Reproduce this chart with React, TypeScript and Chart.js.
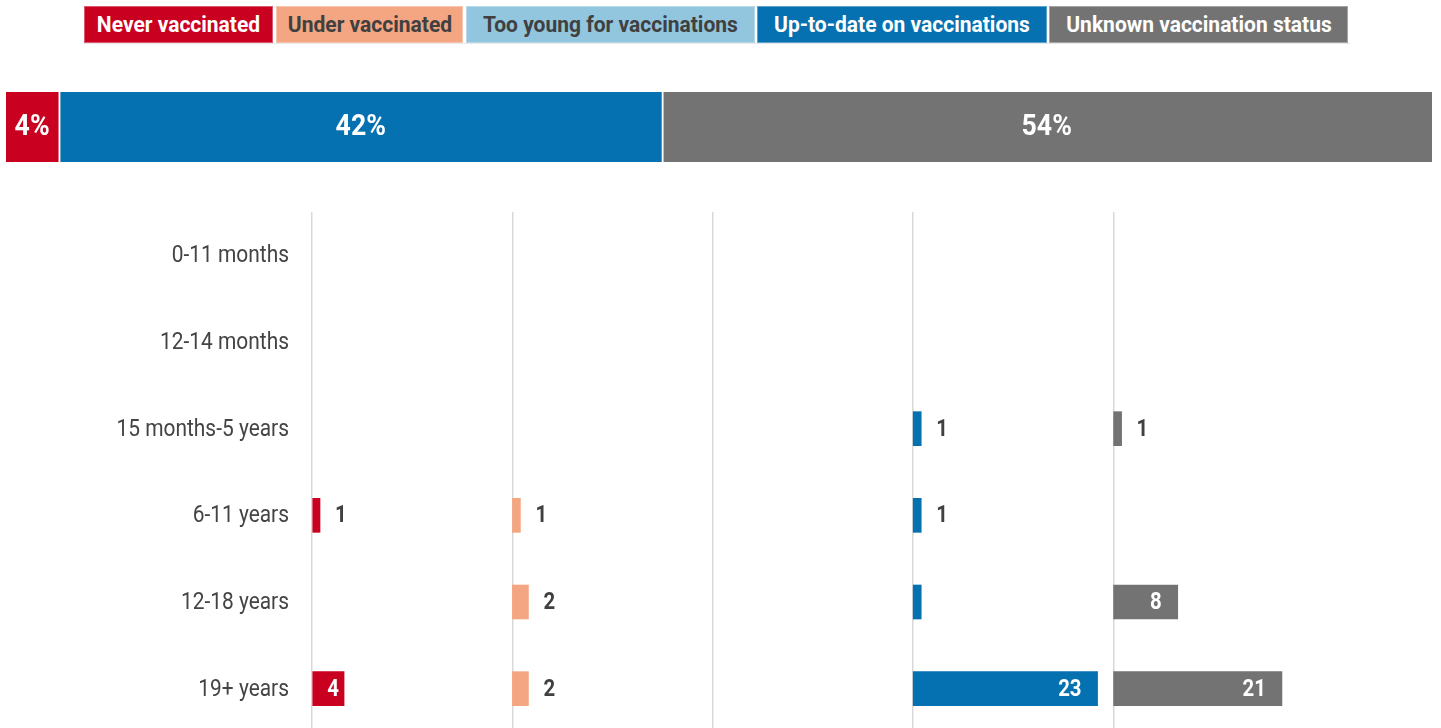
import React, { useEffect, useRef } from "react";
import { Chart, registerables } from "chart.js";

Chart.register(...registerables);

// ---------- data ----------
const ageGroups = [
  "0-11 months",
  "12-14 months",
  "15 months-5 years",
  "6-11 years",
  "12-18 years",
  "19+ years",
];
const seriesNames = [
  "Never vaccinated",
  "Under vaccinated",
  "Too young for vaccinations",
  "Up-to-date on vaccinations",
  "Unknown vaccination status",
];
const neverVaccinated = [0, 0, 0, 1, 0, 4];
const underVaccinated = [0, 0, 0, 1, 2, 2];
const tooYoung = [0, 0, 0, 0, 0, 0];
const upToDate = [0, 0, 1, 1, 1, 23];
const unknownStatus = [0, 0, 1, 0, 8, 21];
// [series index, row index] of bars drawn without a value label
const unlabeledBars = [[3, 4]];

const shareNames = ["Never vaccinated", "Up-to-date on vaccinations", "Unknown vaccination status"];
const shareValues = [3.8, 42.3, 53.9];
const shareLabels = ["4%", "42%", "54%"];

const columnSpan = 25;

// ---------- styles ----------
const COLORS: Record<string, string> = {
  "Never vaccinated": "#ca0020",
  "Under vaccinated": "#f4a582",
  "Too young for vaccinations": "#92c5de",
  "Up-to-date on vaccinations": "#0571b0",
  "Unknown vaccination status": "#737373",
};
const TEXT_ON: Record<string, string> = {
  "Never vaccinated": "#ffffff",
  "Under vaccinated": "#404040",
  "Too young for vaccinations": "#404040",
  "Up-to-date on vaccinations": "#ffffff",
  "Unknown vaccination status": "#ffffff",
};
const LEGEND_BOXES = [
  [84, 189],
  [276, 187],
  [466, 289],
  [757, 290],
  [1049, 299],
];

const seriesValues = [neverVaccinated, underVaccinated, tooYoung, upToDate, unknownStatus];

const valueLabelPlugin = {
  id: "valueLabels",
  afterDatasetsDraw(chart: any) {
    const ctx = chart.ctx;
    chart.data.datasets.forEach((ds: any, di: number) => {
      const meta = chart.getDatasetMeta(di);
      const vals: number[] = ds.values;
      meta.data.forEach((bar: any, i: number) => {
        const v = vals[i];
        if (!v) return;
        if (unlabeledBars.some(([s, r]) => s === di && r === i)) return;
        const { x, y, base } = bar.getProps(["x", "y", "base"], true);
        const w = x - base;
        const inside = w >= 30;
        ctx.save();
        ctx.font = "bold 24px Roboto";
        ctx.textBaseline = "middle";
        let tx: number;
        if (inside) {
          tx = x - (w > 50 ? 16 : 5);
          ctx.textAlign = "right";
          ctx.fillStyle = "#ffffff";
        } else {
          tx = x + 15;
          ctx.textAlign = "left";
          ctx.fillStyle = "#404040";
        }
        ctx.translate(tx, y + 1);
        ctx.scale(0.85, 1);
        ctx.fillText(String(v), 0, 0);
        ctx.restore();
      });
    });
  },
};

// draws the category labels of the y axis in a condensed style
const yLabelPlugin = {
  id: "yLabels",
  afterDraw(chart: any) {
    const ctx = chart.ctx;
    const scale = chart.scales.y;
    const labels: string[] = scale.getLabels();
    labels.forEach((lab, i) => {
      const py = scale.getPixelForValue(i);
      ctx.save();
      ctx.font = "400 23.5px Roboto";
      ctx.textBaseline = "middle";
      ctx.textAlign = "right";
      ctx.fillStyle = "#444444";
      ctx.translate(scale.right - 23, py + 1);
      ctx.scale(0.89, 1);
      ctx.fillText(lab, 0, 0);
      ctx.restore();
    });
  },
};

const shareLabelPlugin = {
  id: "shareLabels",
  afterDatasetsDraw(chart: any) {
    const ctx = chart.ctx;
    chart.data.datasets.forEach((ds: any, di: number) => {
      const meta = chart.getDatasetMeta(di);
      meta.data.forEach((bar: any) => {
        const { x, y, base } = bar.getProps(["x", "y", "base"], true);
        ctx.save();
        ctx.font = "bold 29px Roboto";
        ctx.textBaseline = "middle";
        ctx.textAlign = "center";
        ctx.fillStyle = "#ffffff";
        ctx.translate((x + base) / 2 - 1, y + 1);
        ctx.scale(0.92, 1);
        ctx.fillText(ds.label, 0, 0);
        ctx.restore();
      });
    });
  },
};

function ShareBar() {
  const ref = useRef<HTMLCanvasElement>(null);
  useEffect(() => {
    if (!ref.current) return;
    const chart = new Chart(ref.current, {
      type: "bar",
      data: {
        labels: ["All"],
        datasets: shareNames.map((n, i) => ({
          label: shareLabels[i],
          data: [shareValues[i]],
          backgroundColor: COLORS[n],
          borderColor: "#ffffff",
          borderWidth: i < shareNames.length - 1 ? { left: 0, right: 2, top: 0, bottom: 0 } : 0,
          borderSkipped: false,
          categoryPercentage: 1,
          barPercentage: 1,
        })) as any,
      },
      options: {
        indexAxis: "y",
        animation: false,
        responsive: true,
        maintainAspectRatio: false,
        layout: { padding: 0 },
        plugins: { legend: { display: false }, tooltip: { enabled: false } },
        scales: {
          x: { display: false, stacked: true, min: 0, max: 100 },
          y: { display: false, stacked: true },
        },
      },
      plugins: [shareLabelPlugin],
    });
    return () => chart.destroy();
  }, []);
  return (
    <div style={{ position: "absolute", left: 6, top: 92, width: 1426, height: 70 }}>
      <canvas ref={ref} />
    </div>
  );
}

function AgeChart() {
  const ref = useRef<HTMLCanvasElement>(null);
  useEffect(() => {
    if (!ref.current) return;
    const chart = new Chart(ref.current, {
      type: "bar",
      data: {
        labels: ageGroups,
        datasets: seriesNames.map((n, si) => ({
          label: n,
          values: seriesValues[si],
          data: seriesValues[si].map((v) =>
            v ? [si * columnSpan, si * columnSpan + v] : null
          ),
          backgroundColor: COLORS[n],
          borderWidth: 0,
          grouped: false,
          barThickness: 34,
        })) as any,
      },
      options: {
        indexAxis: "y",
        animation: false,
        responsive: true,
        maintainAspectRatio: false,
        layout: { padding: { left: 0, right: 127, top: 0, bottom: 0 } },
        plugins: { legend: { display: false }, tooltip: { enabled: false } },
        scales: {
          x: {
            type: "linear",
            min: 0,
            max: columnSpan * seriesNames.length,
            position: "bottom",
            ticks: { display: false, stepSize: columnSpan },
            grid: {
              drawTicks: false,
              lineWidth: 1.5,
              color: (c: any) =>
                c.tick && c.tick.value >= columnSpan * seriesNames.length
                  ? "rgba(0,0,0,0)"
                  : "#d9d9d9",
            },
            border: { display: false },
          },
          y: {
            type: "category",
            grid: { display: false, drawTicks: false },
            border: { display: false },
            ticks: { display: false },
            afterFit(s: any) {
              s.width = 312;
              s.paddingTop = 0;
              s.paddingBottom = 0;
            },
          },
        },
      },
      plugins: [valueLabelPlugin, yLabelPlugin],
    });
    return () => chart.destroy();
  }, []);
  return (
    <div style={{ position: "absolute", left: 0, top: 212, width: 1441, height: 520 }}>
      <canvas ref={ref} />
    </div>
  );
}

function Legend() {
  return (
    <>
      <div
        style={{
          position: "absolute",
          left: 84,
          top: 43,
          width: 1266,
          height: 1,
          background: "#e8e8e8",
        }}
      />
      {seriesNames.map((n, i) => (
        <div
          key={n}
          style={{
            position: "absolute",
            left: LEGEND_BOXES[i][0],
            top: 6,
            width: LEGEND_BOXES[i][1],
            height: 37,
            boxSizing: "border-box",
            background: COLORS[n],
            border: "1px solid rgba(255,255,255,0.35)",
            color: TEXT_ON[n],
            display: "flex",
            alignItems: "center",
            justifyContent: "center",
            fontFamily: "Roboto, sans-serif",
            fontWeight: 700,
            fontSize: 22,
            whiteSpace: "nowrap",
          }}
        >
          <span style={{ display: "inline-block", transform: "scaleX(0.955)" }}>{n}</span>
        </div>
      ))}
    </>
  );
}

export default function App() {
  useEffect(() => {
    document.body.style.margin = "0";
    document.body.style.overflow = "hidden";
  }, []);
  return (
    <div
      style={{
        position: "absolute",
        left: 0,
        top: 0,
        width: 1441,
        height: 728,
        overflow: "hidden",
        background: "#ffffff",
      }}
    >
      <Legend />
      <ShareBar />
      <AgeChart />
    </div>
  );
}
